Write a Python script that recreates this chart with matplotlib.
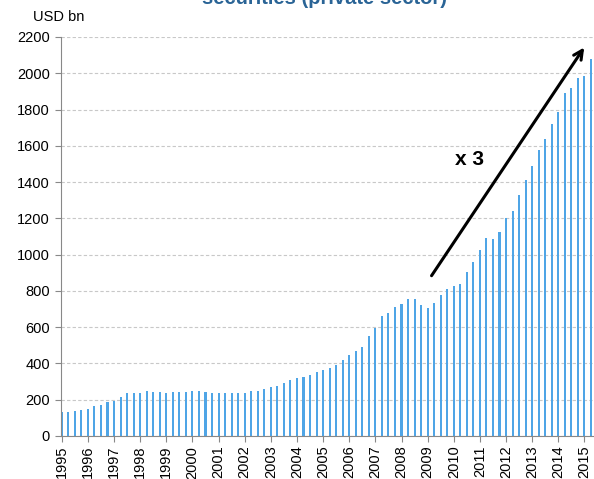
import numpy as np
import matplotlib.pyplot as plt

plt.rcParams['font.family'] = ['Liberation Sans', 'DejaVu Sans']

# quarterly values, 1995 Q1 - 2015 Q2 (USD bn)
values = [130, 133, 139, 143, 150, 165, 172, 189, 194, 217,
          235, 235, 239, 246, 244, 244, 239, 241, 243, 244,
          250, 246, 243, 239, 237, 237, 235, 235, 235, 250,
          250, 261, 269, 278, 292, 306, 319, 326, 335, 354,
          365, 376, 393, 417, 444, 470, 492, 553, 597, 663,
          676, 711, 728, 756, 754, 722, 704, 734, 780, 811,
          826, 837, 903, 960, 1028, 1089, 1086, 1122, 1200, 1238,
          1329, 1414, 1486, 1579, 1638, 1718, 1785, 1889, 1917, 1976,
          1983, 2077]
start_year = 1995
years = list(range(1995, 2016))
yticks = list(range(0, 2201, 200))

x = start_year + np.arange(len(values)) / 4.0

fig = plt.figure(figsize=(5.94, 4.79), dpi=100)
ax = fig.add_axes([0.1027, 0.0898, 0.8953, 0.833])

ax.bar(x, values, width=0.08, color='#4FA5E6', align='center', zorder=2)

ax.set_ylim(0, 2200)
ax.set_xlim(1994.97, 2015.32)
ax.set_yticks(yticks)
ax.set_xticks(years)
ax.set_xticklabels([str(y) for y in years], rotation=90, fontsize=10.5)
ax.tick_params(axis='y', labelsize=10.5, length=4, color='#888888', pad=4)
ax.tick_params(axis='x', length=4, color='#888888', pad=3)

ax.yaxis.grid(True, linestyle=(0, (3, 2)), color='#c8c8c8', linewidth=0.8, zorder=0)
for s in ['top', 'right']:
    ax.spines[s].set_visible(False)
for s in ['left', 'bottom']:
    ax.spines[s].set_color('#888888')

# arrow + growth label
ax.annotate('', xy=(2015.05, 2155), xytext=(2009.09, 871),
            arrowprops=dict(arrowstyle='->', lw=2.2, color='black', mutation_scale=16),
            zorder=5)
ax.text(2010.62, 1527, 'x 3', fontsize=15, fontweight='bold', ha='center', va='center')

fig.text(33 / 594, 1 - 17 / 479, 'USD bn', fontsize=10.5, ha='left', va='center')
# title is cut by the top edge in the original
fig.text(325 / 594, 1 - 4 / 479, 'securities (private sector)', fontsize=14.5,
         fontweight='bold', color='#2A6496', ha='center', va='baseline')

fig.savefig('out.png', dpi=100)
